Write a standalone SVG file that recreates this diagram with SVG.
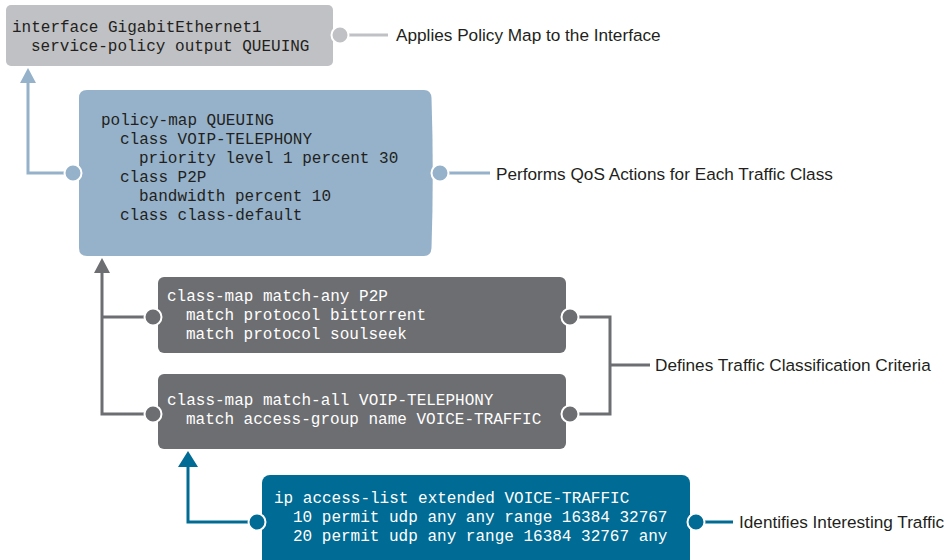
<svg xmlns="http://www.w3.org/2000/svg" width="948" height="560" viewBox="0 0 948 560">
<style>
.code{font-family:"Liberation Mono","DejaVu Sans Mono",monospace;font-size:16px}
.dark{fill:#231f20}
.light{fill:#ffffff}
.label{font-family:"Liberation Sans",Arial,sans-serif;font-size:17.2px;fill:#231f20}
.dot{stroke:#ffffff;stroke-width:2}
.ln{fill:none;stroke-width:3}
</style>
<defs>
<marker id="ahLight" markerUnits="userSpaceOnUse" markerWidth="16" markerHeight="16" refX="0" refY="8" orient="auto" viewBox="0 0 15 16"><path d="M0,0 L15,8 L0,16 z" fill="#95b2ca"/></marker>
<marker id="ahGray" markerUnits="userSpaceOnUse" markerWidth="16" markerHeight="16" refX="0" refY="8" orient="auto" viewBox="0 0 15 16"><path d="M0,0 L15,8 L0,16 z" fill="#6d6e71"/></marker>
<marker id="ahBlue" markerUnits="userSpaceOnUse" markerWidth="16" markerHeight="20" refX="0" refY="10" orient="auto" viewBox="0 0 16 20"><path d="M0,0 L16,10 L0,20 z" fill="#006b94"/></marker>
</defs>

<g id="connectors">
<path class="ln" d="M73,173 H28 V83" stroke="#95b2ca" marker-end="url(#ahLight)"/>
<path class="ln" d="M153,317 H102" stroke="#6d6e71"/>
<path class="ln" d="M153,414 H102 V273" stroke="#6d6e71" marker-end="url(#ahGray)"/>
<path class="ln" d="M257,522 H188 V467" stroke="#006b94" marker-end="url(#ahBlue)"/>
<path class="ln" d="M340,35 H388" stroke="#c0c1c4"/>
<path class="ln" d="M440,173 H490" stroke="#95b2ca"/>
<path class="ln" d="M570,317 H610 V414 H570 M610,365 H650" stroke="#6d6e71"/>
<path class="ln" d="M696,522 H733" stroke="#006b94"/>
</g>

<g id="interface">
<rect x="6" y="5" width="327" height="61" rx="5" fill="#c0c1c4"/>
<text class="code dark" x="12" y="32">interface GigabitEthernet1</text>
<text class="code dark" x="31" y="51">service-policy output QUEUING</text>
<circle class="dot" cx="340" cy="35" r="8.5" fill="#c0c1c4"/>
<text class="label" x="396" y="41">Applies Policy Map to the Interface</text>
</g>

<g id="policy-map">
<path d="M87,90 H424 Q431,90 431.5,98 Q434,173 431.5,248 Q431,256 424,256 H87 Q79,256 79,248 V98 Q79,90 87,90 Z" fill="#95b2ca"/>
<text class="code dark" x="101" y="125">policy-map QUEUING</text>
<text class="code dark" x="120" y="144">class VOIP-TELEPHONY</text>
<text class="code dark" x="139" y="163">priority level 1 percent 30</text>
<text class="code dark" x="120" y="182">class P2P</text>
<text class="code dark" x="139" y="201">bandwidth percent 10</text>
<text class="code dark" x="120" y="220">class class-default</text>
<circle class="dot" cx="73" cy="173" r="8.5" fill="#95b2ca"/>
<circle class="dot" cx="440" cy="173" r="8.5" fill="#95b2ca"/>
<text class="label" x="496" y="180">Performs QoS Actions for Each Traffic Class</text>
</g>

<g id="class-map-p2p">
<rect x="158" y="277" width="408" height="76" rx="6" fill="#6d6e71"/>
<text class="code light" x="167" y="301">class-map match-any P2P</text>
<text class="code light" x="186" y="320">match protocol bittorrent</text>
<text class="code light" x="186" y="339">match protocol soulseek</text>
<circle class="dot" cx="153" cy="317" r="8.5" fill="#6d6e71"/>
<circle class="dot" cx="570" cy="317" r="8.5" fill="#6d6e71"/>
</g>

<g id="class-map-voip">
<rect x="158" y="374" width="408" height="75" rx="6" fill="#6d6e71"/>
<text class="code light" x="167" y="405">class-map match-all VOIP-TELEPHONY</text>
<text class="code light" x="186" y="424">match access-group name VOICE-TRAFFIC</text>
<circle class="dot" cx="153" cy="414" r="8.5" fill="#6d6e71"/>
<circle class="dot" cx="570" cy="414" r="8.5" fill="#6d6e71"/>
</g>

<g id="classification-label">
<text class="label" x="655" y="371">Defines Traffic Classification Criteria</text>
</g>

<g id="access-list">
<rect x="262" y="475" width="428" height="100" rx="8" fill="#006b94"/>
<text class="code light" x="274" y="503">ip access-list extended VOICE-TRAFFIC</text>
<text class="code light" x="293" y="522">10 permit udp any any range 16384 32767</text>
<text class="code light" x="293" y="541">20 permit udp any range 16384 32767 any</text>
<circle class="dot" cx="257" cy="522" r="8.5" fill="#006b94"/>
<circle class="dot" cx="696" cy="522" r="8.5" fill="#006b94"/>
<text class="label" x="739" y="528">Identifies Interesting Traffic</text>
</g>
</svg>
